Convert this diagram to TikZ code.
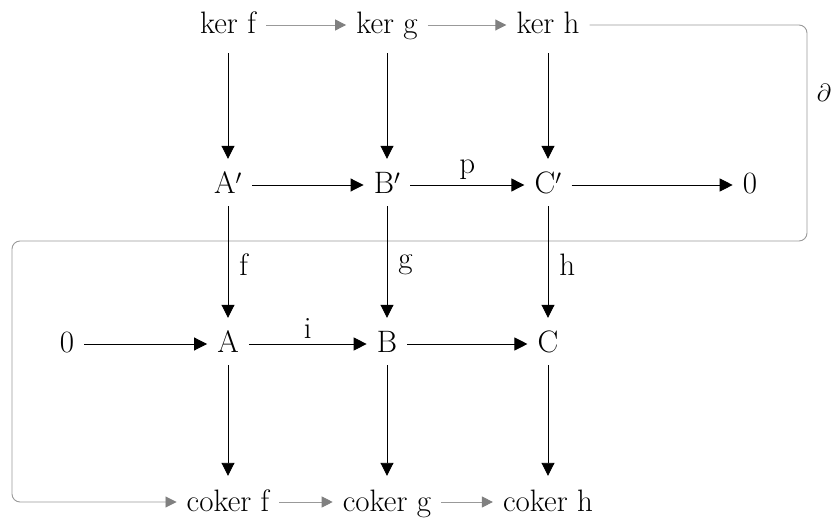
\documentclass[tikz,border=0pt]{standalone}
\usetikzlibrary{arrows.meta}
\definecolor{snakeline}{gray}{0.6}
\definecolor{snaketip}{gray}{0.5}
\begin{document}
\begin{tikzpicture}[x=1pt,y=-1pt,
  obj/.style={font=\fontsize{31}{36}\selectfont, text height=24pt, text depth=6pt, inner xsep=10pt, inner ysep=6pt},
  lbl/.style={font=\fontsize{31}{36}\selectfont, inner sep=0pt},
  blk/.style={-{Triangle[length=13pt,width=13pt]}, line width=0.9pt},
  vblk/.style={blk, shorten >=5pt},
  gry/.style={draw=snakeline, -{Triangle[length=11pt,width=11pt,color=snaketip,fill=snaketip]}, line width=0.9pt},
]
\useasboundingbox (0,0) rectangle (833,521);
% top row
\node[obj] (kf) at (228,25) {ker f};
\node[obj] (kg) at (387,25) {ker g};
\node[obj] (kh) at (548,25) {ker h};
% second row
\node[obj] (Ap) at (228,185) {A$'$};
\node[obj] (Bp) at (387,185) {B$'$};
\node[obj] (Cp) at (548,185) {C$'$};
\node[obj] (Zr) at (750,185) {0};
% third row
\node[obj] (Zl) at (67,344) {0};
\node[obj] (A) at (228,344) {A};
\node[obj] (B) at (387,344) {B};
\node[obj] (C) at (548,344) {C};
% bottom row
\node[obj] (cf) at (228,502) {coker f};
\node[obj] (cg) at (387,502) {coker g};
\node[obj] (ch) at (548,502) {coker h};
% snake corners
\coordinate (sR) at (807,241);
\coordinate (sL) at (12,241);
% gray rows and snake
\draw[gry] (kf) -- (kg);
\draw[gry] (kg) -- (kh);
\draw[gry, rounded corners=8pt] (kh.east) -| (sR) -- (sL) |- (cf.west);
\draw[gry] (cf) -- (cg);
\draw[gry] (cg) -- (ch);
% horizontal black arrows
\draw[blk] (Ap) -- (Bp);
\draw[blk] (Bp) -- (Cp) node[lbl, midway, above=5pt] (lp) {p};
\draw[blk] (Cp) -- (Zr);
\draw[blk] (Zl) -- (A);
\draw[blk] (A) -- (B) node[lbl, midway, above=5pt] (li) {i};
\draw[blk] (B) -- (C);
% vertical arrows
\draw[vblk, shorten <=7pt] (kf) -- (Ap);
\draw[vblk, shorten <=7pt] (kg) -- (Bp);
\draw[vblk, shorten <=7pt] (kh) -- (Cp);
\draw[vblk] (Ap) -- (A) node[lbl, midway, right=11pt] (lf) {f};
\draw[vblk] (Bp) -- (B) node[lbl, midway, right=11pt] (lg) {g};
\draw[vblk] (Cp) -- (C) node[lbl, midway, right=11pt] (lh) {h};
\draw[vblk] (A) -- (cf);
\draw[vblk] (B) -- (cg);
\draw[vblk] (C) -- (ch);
\node[lbl] (dl) at (824,93) {$\partial$};
\end{tikzpicture}
\end{document}
